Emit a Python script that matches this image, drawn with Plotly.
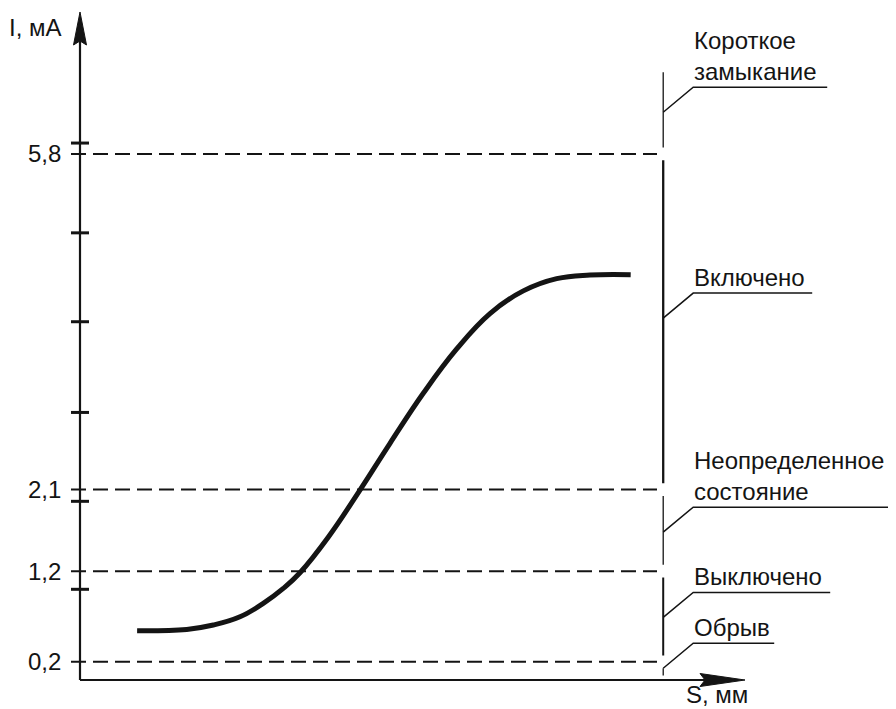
import plotly.graph_objects as go

# ---------------- data ----------------
s_curve = [8.59, 16.05, 20.05, 24.06, 27.56, 30.57, 33.08, 37.38, 41.95, 46.62,
           51.62, 56.65, 61.65, 66.66, 71.68, 76.69, 82.81]
i_curve = [0.543, 0.558, 0.606, 0.697, 0.845, 1.010, 1.183, 1.580, 2.078, 2.610,
           3.161, 3.650, 4.040, 4.290, 4.425, 4.465, 4.469]

level_values = [0.2, 1.2, 2.1, 5.8]
level_labels = ["0,2", "1,2", "2,1", "5,8"]

tick_values = [1.0, 1.97, 2.95, 3.95, 4.93, 5.92]

zone_labels = ["Обрыв", "Выключено", "Неопределенное<br>состояние", "Включено", "Короткое<br>замыкание"]
zone_anchor_i = [0.13, 0.69, 1.63, 3.99, 6.26]

x_label = "S, мм"
y_label = "I, мА"

s_boundary = 87.7      # position of the state-boundary vertical line
s_axis_end = 100.0
i_axis_end = 7.365
i_zone_top = 6.70
i_zone_bottom = 0.05

# ---------------- styles ----------------
INK = "#141414"
FONT = "Liberation Sans, Arial, sans-serif"
FS = 24
PX_X = 6.65   # px per S unit
PX_Y = 90.7   # px per I unit
W, H = 888, 701          # page body has an 8px margin
OX, OY = 72, 672         # origin in figure pixels
zone_widths = [1.3, 2.0, 1.3, 2.3, 1.3]
underline_px = [81, 137, 203, 119, 134]

fig = go.Figure()

# dashed threshold lines
for v in level_values:
    fig.add_trace(go.Scatter(x=[-9 / PX_X, 577 / PX_X], y=[v, v], mode="lines",
                             line=dict(color=INK, width=2, dash="15px,7px"),
                             hoverinfo="skip", showlegend=False, cliponaxis=False))

# y-axis tick stubs
for t in tick_values:
    fig.add_trace(go.Scatter(x=[-9 / PX_X, 9 / PX_X], y=[t, t], mode="lines",
                             line=dict(color=INK, width=3),
                             hoverinfo="skip", showlegend=False, cliponaxis=False))

# axes lines
fig.add_trace(go.Scatter(x=[0, 0], y=[0, i_axis_end - 0.3], mode="lines",
                         line=dict(color=INK, width=2.2), hoverinfo="skip",
                         showlegend=False, cliponaxis=False))
fig.add_trace(go.Scatter(x=[0, s_axis_end - 5], y=[0, 0], mode="lines",
                         line=dict(color=INK, width=2.2), hoverinfo="skip",
                         showlegend=False, cliponaxis=False))

# vertical boundary segments between levels
gap = 0.07
bounds = [i_zone_bottom] + [v for lv in level_values for v in (lv - gap, lv + gap)] + [i_zone_top]
for k in range(len(zone_labels)):
    y0, y1 = bounds[2 * k], bounds[2 * k + 1]
    fig.add_trace(go.Scatter(x=[s_boundary, s_boundary], y=[y0, y1], mode="lines",
                             line=dict(color=INK, width=zone_widths[k]),
                             hoverinfo="skip", showlegend=False, cliponaxis=False))

# leaders + labels
dxl = 30 / PX_X
dyl = 25 / PX_Y
for k, (lab, a) in enumerate(zip(zone_labels, zone_anchor_i)):
    xs = [s_boundary, s_boundary + dxl, s_boundary + dxl + underline_px[k] / PX_X]
    ys = [a, a + dyl, a + dyl]
    fig.add_trace(go.Scatter(x=xs, y=ys, mode="lines",
                             line=dict(color=INK, width=1.5),
                             hoverinfo="skip", showlegend=False, cliponaxis=False))
    fig.add_annotation(x=s_boundary + dxl - 1 / PX_X, y=a + dyl, text=lab, showarrow=False,
                       xanchor="left", yanchor="bottom", align="left",
                       font=dict(family=FONT, size=FS, color=INK))

# the characteristic curve
fig.add_trace(go.Scatter(x=s_curve, y=i_curve, mode="lines",
                         line=dict(color=INK, width=5, shape="spline", smoothing=1.2),
                         hoverinfo="skip", showlegend=False, cliponaxis=False))

# level labels
for v, lab in zip(level_values, level_labels):
    fig.add_annotation(x=-17 / PX_X, y=v, text=lab, showarrow=False,
                       xanchor="right", yanchor="middle",
                       font=dict(family=FONT, size=FS, color=INK))

# axis titles
fig.add_annotation(x=-45 / PX_X, y=(680 - 27) / PX_Y, text=y_label, showarrow=False,
                   xanchor="center", yanchor="middle", font=dict(family=FONT, size=FS, color=INK))
fig.add_annotation(x=(717 - 80) / PX_X, y=-(694 - 680) / PX_Y, text=x_label, showarrow=False,
                   xanchor="center", yanchor="middle", font=dict(family=FONT, size=FS, color=INK))

# arrow heads
hw = 6.5 / PX_X
hl = 33 / PX_Y
fig.add_shape(type="path", xref="x", yref="y",
              path=(f"M {-hw},{i_axis_end - hl} L 0,{i_axis_end} L {hw},{i_axis_end - hl} "
                    f"L 0,{i_axis_end - hl + 4 / PX_Y} Z"),
              fillcolor=INK, line=dict(color=INK, width=1))
vh = 6.5 / PX_Y
vl = 45 / PX_X
fig.add_shape(type="path", xref="x", yref="y",
              path=(f"M {s_axis_end - vl},{vh} L {s_axis_end},0 L {s_axis_end - vl},{-vh} "
                    f"L {s_axis_end - vl + 5 / PX_X},0 Z"),
              fillcolor=INK, line=dict(color=INK, width=1))

fig.update_layout(
    width=W, height=H,
    margin=dict(l=0, r=0, t=0, b=0),
    paper_bgcolor="white", plot_bgcolor="white",
    xaxis=dict(range=[-OX / PX_X, (W - OX) / PX_X], visible=False, fixedrange=True),
    yaxis=dict(range=[-(H - OY) / PX_Y, OY / PX_Y], visible=False, fixedrange=True),
    showlegend=False,
)

fig.write_html("out.html")
